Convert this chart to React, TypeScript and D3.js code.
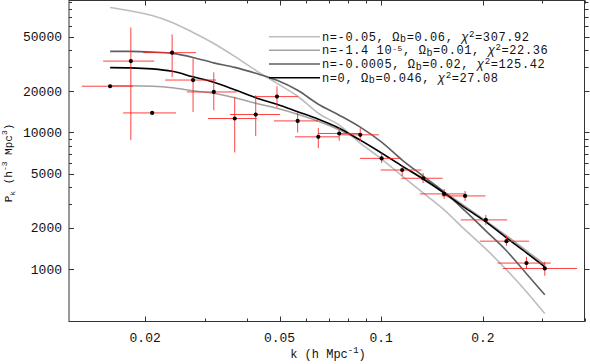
import React from "react";
import * as d3 from "d3";

// data point wavenumbers (h/Mpc) and power
const kVals = [0.01575, 0.01814, 0.02098, 0.02404, 0.02773, 0.03194, 0.03684, 0.04251, 0.04914, 0.05658, 0.06513, 0.07511, 0.0867, 0.1003, 0.1154, 0.1331, 0.1536, 0.1772, 0.2041, 0.235, 0.2693, 0.3051];
const pVals = [21800, 33300, 13900, 38400, 24200, 19800, 12650, 13530, 18300, 12150, 9290, 9830, 9610, 6460, 5310, 4620, 3550, 3430, 2290, 1600, 1106, 1010];
const kLo = [0.01299, 0.01502, 0.01721, 0.01973, 0.02292, 0.02657, 0.03072, 0.03568, 0.0423, 0.04816, 0.05555, 0.065, 0.07549, 0.08652, 0.09961, 0.1149, 0.1302, 0.151, 0.1722, 0.1959, 0.2211, 0.2292];
const kHi = [0.01842, 0.02127, 0.0247, 0.0283, 0.03244, 0.03735, 0.04281, 0.05016, 0.0567, 0.065, 0.07499, 0.08652, 0.09847, 0.1136, 0.1317, 0.152, 0.1769, 0.2037, 0.236, 0.2742, 0.3178, 0.3802];
const pLo = [21060, 8787, 13600, 25450, 14140, 14550, 7145, 9397, 15300, 10000, 7680, 8685, 8640, 5970, 4797, 4265, 3261, 3152, 2106, 1480, 1005, 894];
const pHi = [22520, 58700, 14200, 52180, 34860, 27550, 18190, 18720, 21770, 14140, 10800, 10930, 10750, 7063, 5772, 5045, 3856, 3728, 2491, 1750, 1229, 1131];

// model curves sampled at kVals
const curveA = [82130, 77470, 71790, 63860, 53970, 44850, 36060, 28490, 22900, 18410, 13830, 11300, 8353, 6385, 4798, 3604, 2709, 1936, 1406, 988, 683, 472];
const curveB = [21960, 21960, 21780, 21230, 20190, 19360, 17950, 16360, 15040, 13600, 12090, 10480, 8786, 7064, 5675, 4601, 3666, 2873, 2252, 1750, 1360, 1075];
const curveC = [39220, 39220, 38760, 37920, 35440, 32320, 29970, 27090, 24090, 20360, 16090, 13380, 10930, 8494, 6279, 4798, 3666, 2664, 1904, 1360, 924, 649];
const curveD = [29820, 29720, 29220, 28030, 25550, 23290, 20530, 17950, 16090, 14190, 12510, 10750, 8786, 7064, 5675, 4561, 3604, 2802, 2215, 1692, 1315, 1039];

const xTickLabels = [0.02, 0.05, 0.1, 0.2];
const xTickAll = [0.02, 0.03, 0.04, 0.05, 0.06, 0.07, 0.08, 0.09, 0.1, 0.2, 0.3, 0.4];
const yTickLabels = [1000, 2000, 5000, 10000, 20000, 50000];
const yTickAll = [1000, 2000, 3000, 4000, 5000, 6000, 7000, 8000, 9000, 10000, 20000, 30000, 40000, 50000, 60000, 70000, 80000, 90000];

const legendColors = ["#bdbdbd", "#a2a2a2", "#5e5e5e", "#000000"];

const FONT = "Liberation Mono, DejaVu Sans Mono, monospace";

export default function App() {
  const W = 590, H = 364;
  const L = 69, R = 584.5, T = 0.5, B = 321.5;
  const x = d3.scaleLog().domain([0.0119, 0.4]).range([L, R]);
  const y = d3.scaleLog().domain([413, 92500]).range([B, T]);

  const line = d3
    .line<number>()
    .x((_, i) => x(kVals[i]))
    .y((d) => y(d))
    .curve(d3.curveMonotoneX);

  const curves = [curveA, curveB, curveC, curveD];
  const curveOrder = [0, 1, 2, 3];

  const legendRows = [
    <>n=-0.05, Ω<tspan dy={1.5} fontSize={10}>b</tspan><tspan dy={-1.5}>=0.06, </tspan><tspan fontStyle="italic">χ</tspan><tspan dy={-4} fontSize={9}>2</tspan><tspan dy={4}>=307.92</tspan></>,
    <>n=-1.4 10<tspan dy={-3} fontSize={8}>-5</tspan><tspan dy={3}>, Ω</tspan><tspan dy={1.5} fontSize={10}>b</tspan><tspan dy={-1.5}>=0.01, </tspan><tspan fontStyle="italic">χ</tspan><tspan dy={-4} fontSize={9}>2</tspan><tspan dy={4}>=22.36</tspan></>,
    <>n=-0.0005, Ω<tspan dy={1.5} fontSize={10}>b</tspan><tspan dy={-1.5}>=0.02, </tspan><tspan fontStyle="italic">χ</tspan><tspan dy={-4} fontSize={9}>2</tspan><tspan dy={4}>=125.42</tspan></>,
    <>n=0, Ω<tspan dy={1.5} fontSize={10}>b</tspan><tspan dy={-1.5}>=0.046, </tspan><tspan fontStyle="italic">χ</tspan><tspan dy={-4} fontSize={9}>2</tspan><tspan dy={4}>=27.08</tspan></>,
  ];
  const legendY = [36.7, 50.3, 64, 77.7];

  return (
    <svg width={W} height={H} style={{ position: "absolute", left: 0, top: 0, background: "#fff" }}>
      {/* frame */}
      <rect x={L} y={T} width={R - L} height={B - T} fill="none" stroke="#333" strokeWidth={1} />
      {/* x ticks bottom & top */}
      {xTickAll.map((t) => {
        const major = xTickLabels.includes(t);
        const px = Math.round(x(t)) + 0.5;
        return (
          <g key={"xt" + t}>
            <line x1={px} x2={px} y1={B} y2={B - (major ? 5 : 3)} stroke="#333" />
            <line x1={px} x2={px} y1={T} y2={T + (major ? 5 : 3)} stroke="#333" />
          </g>
        );
      })}
      {xTickLabels.map((t) => (
        <text key={"xl" + t} x={x(t)} y={342} textAnchor="middle" fontFamily={FONT} fontSize={13} fill="#111">
          {String(t)}
        </text>
      ))}
      {/* y ticks left & right */}
      {yTickAll.map((t) => {
        const major = yTickLabels.includes(t);
        const py = Math.round(y(t)) + 0.5;
        return (
          <g key={"yt" + t}>
            <line x1={L} x2={L + (major ? 5 : 3)} y1={py} y2={py} stroke="#333" />
            <line x1={R} x2={R + (major ? 5 : 4)} y1={py} y2={py} stroke="#333" />
          </g>
        );
      })}
      {yTickLabels.map((t) => (
        <text key={"yl" + t} x={62} y={y(t) + 4.5} textAnchor="end" fontFamily={FONT} fontSize={13} fill="#111">
          {String(t)}
        </text>
      ))}
      {/* axis titles */}
      <text x={328} y={358} textAnchor="middle" fontFamily={FONT} fontSize={12} fill="#111">
        k (h Mpc<tspan dy={-5} fontSize={9}>-1</tspan><tspan dy={5}>)</tspan>
      </text>
      <text transform="translate(12,163) rotate(-90)" textAnchor="middle" fontFamily={FONT} fontSize={11} fill="#111">
        P<tspan dy={3} fontSize={8}>k</tspan><tspan dy={-3}> (h</tspan><tspan dy={-5} fontSize={8}>-3</tspan><tspan dy={5}> Mpc</tspan><tspan dy={-5} fontSize={8}>3</tspan><tspan dy={5}>)</tspan>
      </text>
      {/* curves */}
      {curveOrder.map((ci) => (
        <path key={"c" + ci} d={line(curves[ci]) || ""} fill="none" stroke={legendColors[ci]} strokeWidth={1.6} />
      ))}
      {/* error bars */}
      {kVals.map((k, i) => (
        <g key={"e" + i} stroke="#ff2020" strokeWidth={1} strokeOpacity={0.85}>
          <line x1={x(kLo[i])} x2={x(kHi[i])} y1={y(pVals[i])} y2={y(pVals[i])} />
          <line x1={x(k)} x2={x(k)} y1={y(pLo[i])} y2={y(pHi[i])} />
        </g>
      ))}
      {/* points */}
      {kVals.map((k, i) => (
        <circle key={"p" + i} cx={x(k)} cy={y(pVals[i])} r={2.1} fill="#000" />
      ))}
      {/* legend */}
      {legendRows.map((row, i) => (
        <g key={"lg" + i}>
          <line x1={269} x2={320} y1={legendY[i]} y2={legendY[i]} stroke={legendColors[i]} strokeWidth={1.6} />
          <text x={322} y={legendY[i] + 4} fontFamily={FONT} fontSize={12} letterSpacing={0.6} fill="#111">
            {row}
          </text>
        </g>
      ))}
    </svg>
  );
}
